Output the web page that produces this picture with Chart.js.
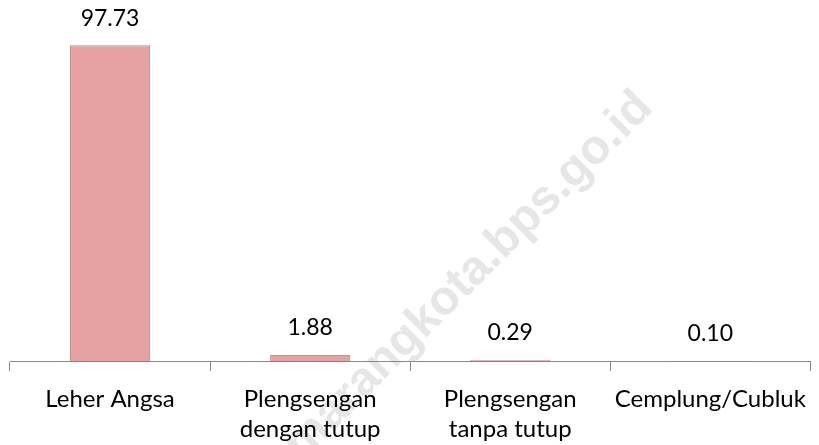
<!DOCTYPE html>
<html>
<head>
<meta charset="utf-8">
<script src="https://cdn.jsdelivr.net/npm/chart.js@4.4.1/dist/chart.umd.min.js"></script>
<style>
  html, body { margin: 0; padding: 0; background: #fff; }
  #wrap { width: 819px; height: 445px; position: relative; }
</style>
</head>
<body>
<div id="wrap"><canvas id="c"></canvas></div>
<script>
// data
const categories = ['Leher Angsa', ['Plengsengan', 'dengan tutup'], ['Plengsengan', 'tanpa tutup'], 'Cemplung/Cubluk'];
const values = [97.73, 1.88, 0.29, 0.10];
const valueLabels = ['97.73', '1.88', '0.29', '0.10'];
const watermark = 'semarangkota.bps.go.id';

const FONT = "Lato, sans-serif";

// faint site watermark behind everything
const watermarkPlugin = {
    id: 'watermark',
    beforeDraw(chart) {
        const ctx = chart.ctx;
        ctx.save();
        ctx.translate(645, 100);
        ctx.rotate(-Math.PI / 4);
        ctx.font = "bold 48px 'Liberation Sans', sans-serif";
        ctx.fillStyle = '#e6e6e6';
        ctx.textAlign = 'right';
        ctx.textBaseline = 'middle';
        ctx.fillText(watermark, 0, 0);
        ctx.restore();
    }
};

// value labels above each bar
const valuePlugin = {
    id: 'values',
    afterDatasetsDraw(chart) {
        const ctx = chart.ctx;
        const meta = chart.getDatasetMeta(0);
        ctx.save();
        ctx.font = "23px " + FONT;
        ctx.fillStyle = '#000';
        ctx.textAlign = 'center';
        ctx.textBaseline = 'middle';
        meta.data.forEach((bar, i) => {
            ctx.fillText(valueLabels[i], bar.x, bar.y - 27);
        });
        ctx.restore();
    }
};

const canvas = document.getElementById('c');

new Chart(canvas, {
    type: 'bar',
    data: {
        labels: categories,
        datasets: [{
            data: values,
            backgroundColor: '#e6a2a2',
            borderColor: '#c98a8a',
            borderWidth: 1,
            barPercentage: 0.8,
            categoryPercentage: 0.5
        }]
    },
    options: {
        responsive: true,
        maintainAspectRatio: false,
        animation: false,
        layout: { padding: { top: 38, left: 10, right: 1, bottom: -12 } },
        plugins: { legend: { display: false }, tooltip: { enabled: false } },
        scales: {
            y: { display: false, min: 0, max: 100 },
            x: {
                grid: { offset: true, drawOnChartArea: false, tickLength: 10, color: '#888' },
                border: { color: '#888', width: 1 },
                ticks: {
                    color: '#000',
                    font: { family: FONT, size: 24, lineHeight: 1.25 },
                    padding: 13,
                    maxRotation: 0,
                    autoSkip: false
                }
            }
        }
    },
    plugins: [watermarkPlugin, valuePlugin]
});
</script>
</body>
</html>
